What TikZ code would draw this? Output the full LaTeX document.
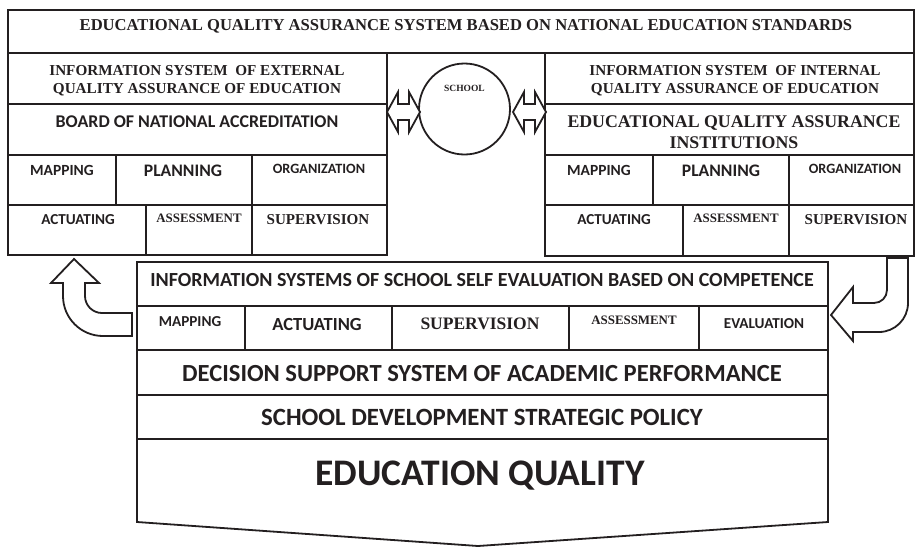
\documentclass[tikz,border=0pt]{standalone}
\usepackage{fontspec}
\newfontfamily\sansf{Carlito}
\newfontfamily\serf{Liberation Serif}
\newcommand{\myfs}[2]{\fontsize{#1}{#2}\selectfont}
\definecolor{ink}{HTML}{231F20}
\tikzset{
  box/.style={draw=ink, line width=1.8pt},
  shp/.style={draw=ink, line width=1.8pt, fill=white, line join=miter},
  st/.style={inner sep=0pt, text=ink, text depth=0pt, font=\sansf\bfseries},
  rt/.style={inner sep=0pt, text=ink, text depth=0pt, font=\serf\bfseries},
}
\begin{document}
\begin{tikzpicture}[x=1pt,y=-1pt]
\useasboundingbox (0,0) rectangle (916,547);
% top band
\draw[box] (8,10) rectangle (914,53);
% left block
\draw[box] (8,53) rectangle (387,255);
\draw[box] (8,104) -- (387,104);
\draw[box] (8,155) -- (387,155);
\draw[box] (8,205) -- (387,205);
\draw[box] (116,155) -- (116,205);
\draw[box] (252,155) -- (252,255);
\draw[box] (146,205) -- (146,255);
% right block
\draw[box] (545,53) rectangle (914,256);
\draw[box] (545,104) -- (914,104);
\draw[box] (545,155) -- (914,155);
\draw[box] (545,205) -- (914,205);
\draw[box] (653,155) -- (653,205);
\draw[box] (789,155) -- (789,256);
\draw[box] (683,205) -- (683,256);
% school circle
\node[draw=ink, line width=1.8pt, circle, minimum size=91pt, inner sep=0pt] (school) at (464.5,109) {};
\node[rt, font=\serf\bfseries\myfs{9.5}{10}] (schooltxt) at (464.5,88) {SCHOOL};
% double arrows
\draw[shp] (387,112) -- (398,92) -- (398,104) -- (409,104) -- (409,92) -- (420,112) -- (409,132) -- (409,120) -- (398,120) -- (398,132) -- cycle;
\draw[shp] (513,112) -- (524,92) -- (524,104) -- (535,104) -- (535,92) -- (546,112) -- (535,132) -- (535,120) -- (524,120) -- (524,132) -- cycle;
% bottom block
\draw[box] (137,262) rectangle (828,439);
\draw[box] (137,306) -- (828,306);
\draw[box] (137,350) -- (828,350);
\draw[box] (137,395) -- (828,395);
\draw[box] (245,306) -- (245,350);
\draw[box] (392,306) -- (392,350);
\draw[box] (569,306) -- (569,350);
\draw[box] (699,306) -- (699,350);
\draw[box, line join=miter] (137,439) -- (137,522) -- (478,546) -- (828,522) -- (828,439);
% left curved arrow
\draw[shp] (74,259) -- (99,283) -- (85,283) -- (85,296)
  .. controls (85,305.4) and (92.6,313) .. (102,313)
  -- (132,313) -- (132,336) -- (103,336)
  .. controls (80.9,336) and (63,318.1) .. (63,296)
  -- (63,283) -- (51,283) -- cycle;
% right curved arrow
\draw[shp] (887,258) -- (887,290)
  .. controls (887,297.2) and (881.2,303) .. (874,303)
  -- (853,303) -- (853,287) -- (831,315) -- (853,341) -- (853,332) -- (879,332)
  .. controls (895,332) and (908,319) .. (908,303)
  -- (908,258) -- cycle;
% texts: top
\node[rt, font=\serf\bfseries\myfs{16.6}{18}] (title) at (466,25) {EDUCATIONAL QUALITY ASSURANCE SYSTEM BASED ON NATIONAL EDUCATION STANDARDS};
\node[rt, font=\serf\bfseries\myfs{15.2}{18}, align=center] (extinfo) at (197,79) {INFORMATION SYSTEM\ \ OF EXTERNAL\\QUALITY ASSURANCE OF EDUCATION};
\node[st, font=\sansf\bfseries\myfs{17.9}{19}] (board) at (197,122) {BOARD OF NATIONAL ACCREDITATION};
\node[st, font=\sansf\bfseries\myfs{15.5}{16}] (lmap) at (62,170) {MAPPING};
\node[st, font=\sansf\bfseries\myfs{17.6}{18}] (lplan) at (183,171) {PLANNING};
\node[st, font=\sansf\bfseries\myfs{14.2}{15}] (lorg) at (319,169) {ORGANIZATION};
\node[st, font=\sansf\bfseries\myfs{15.2}{16}] (lact) at (78,220) {ACTUATING};
\node[rt, font=\serf\bfseries\myfs{12.9}{14}] (lass) at (199,218) {ASSESSMENT};
\node[rt, font=\serf\bfseries\myfs{15.1}{16}] (lsup) at (318,219) {SUPERVISION};
% texts: right
\node[rt, font=\serf\bfseries\myfs{15.2}{18}, align=center] (intinfo) at (735,79) {INFORMATION SYSTEM\ \ OF INTERNAL\\QUALITY ASSURANCE OF EDUCATION};
\node[rt, font=\serf\bfseries\myfs{17.8}{21}, align=center] (eqai) at (734,132.5) {EDUCATIONAL QUALITY ASSURANCE\\INSTITUTIONS};
\node[st, font=\sansf\bfseries\myfs{15.5}{16}] (rmap) at (599,170) {MAPPING};
\node[st, font=\sansf\bfseries\myfs{17.6}{18}] (rplan) at (721,171) {PLANNING};
\node[st, font=\sansf\bfseries\myfs{14.2}{15}] (rorg) at (855,169) {ORGANIZATION};
\node[st, font=\sansf\bfseries\myfs{15.2}{16}] (ract) at (614,220) {ACTUATING};
\node[rt, font=\serf\bfseries\myfs{12.9}{14}] (rass) at (736,218) {ASSESSMENT};
\node[rt, font=\serf\bfseries\myfs{15.1}{16}] (rsup) at (856,219) {SUPERVISION};
% texts: bottom
\node[st, font=\sansf\bfseries\myfs{20}{22}] (selfeval) at (482,280) {INFORMATION SYSTEMS OF SCHOOL SELF EVALUATION BASED ON COMPETENCE};
\node[st, font=\sansf\bfseries\myfs{15.2}{16}] (bmap) at (190,322) {MAPPING};
\node[st, font=\sansf\bfseries\myfs{18.5}{20}] (bact) at (317,324) {ACTUATING};
\node[rt, font=\serf\bfseries\myfs{17.5}{19}] (bsup) at (480,324) {SUPERVISION};
\node[rt, font=\serf\bfseries\myfs{12.9}{14}] (bass) at (634,320) {ASSESSMENT};
\node[st, font=\sansf\bfseries\myfs{15.2}{16}] (beval) at (764,324) {EVALUATION};
\node[st, font=\sansf\bfseries\myfs{24.6}{26}] (dss) at (482,373) {DECISION SUPPORT SYSTEM OF ACADEMIC PERFORMANCE};
\node[st, font=\sansf\bfseries\myfs{24.8}{26}] (policy) at (482,417) {SCHOOL DEVELOPMENT STRATEGIC POLICY};
\node[st, font=\sansf\bfseries\myfs{37.5}{40}] (quality) at (480,473) {EDUCATION QUALITY};
\end{tikzpicture}
\end{document}
